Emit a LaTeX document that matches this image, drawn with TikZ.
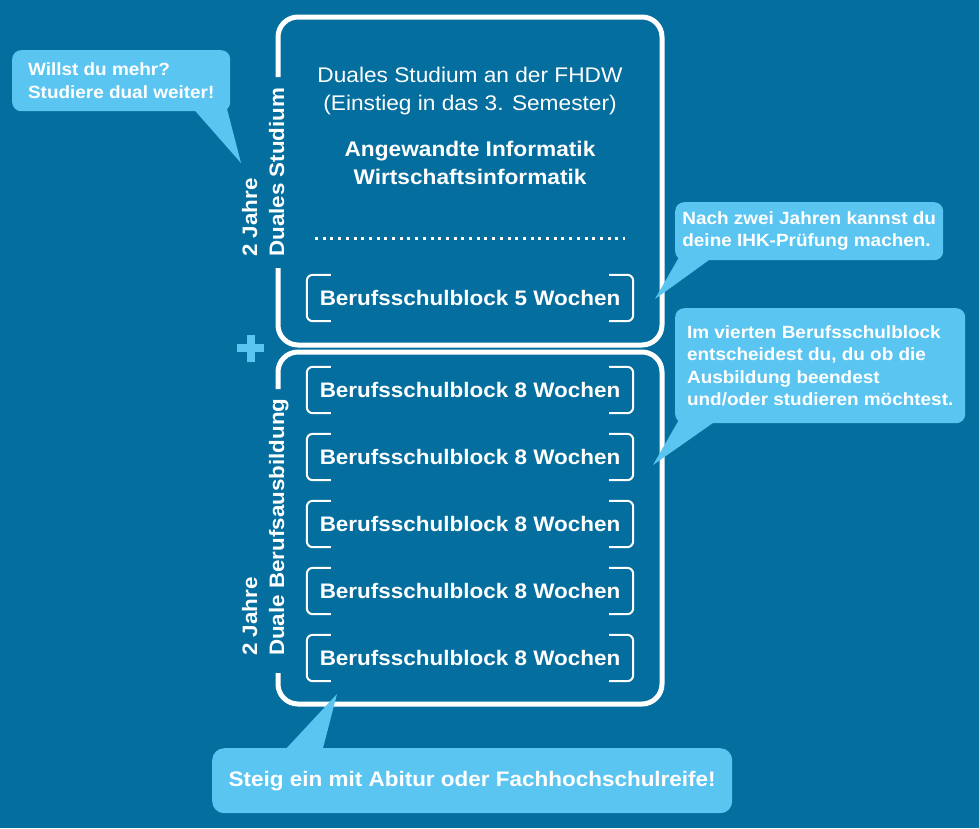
\documentclass[tikz,border=0pt]{standalone}
\usepackage{fontspec}
\setmainfont{Liberation Sans}[FakeStretch=1.07]
\definecolor{bgblue}{HTML}{046E9E}
\definecolor{calloutblue}{HTML}{5BC5F2}
\begin{document}
\begin{tikzpicture}[x=1pt,y=-1pt,
  frame/.style={draw=white, line width=5pt, rounded corners=20pt},
  bracketline/.style={draw=white, line width=2pt, rounded corners=6pt},
  block/.style={text=white, font=\bfseries\fontsize{21}{24}\selectfont, minimum width=326pt, minimum height=46pt, inner sep=0pt},
  headtext/.style={text=white, font=\fontsize{21.2}{28}\selectfont, align=center},
  boldtext/.style={text=white, font=\bfseries\fontsize{21.2}{28}\selectfont, align=center},
  callout/.style={fill=calloutblue, rounded corners=9pt, text=white, font=\bfseries\fontsize{17.7}{22.3}\selectfont, align=left, inner sep=0pt},
  tail/.style={fill=calloutblue},
  vlabel/.style={rotate=90, anchor=base west, text=white, font=\bfseries\fontsize{20.9}{23}\selectfont, inner sep=0pt},
  dotline/.style={draw=white, line width=3pt, dash pattern=on 3pt off 4.7pt},
  plusbar/.style={draw=calloutblue, line width=8pt}
]
\fill[bgblue] (0,0) rectangle (979,828);
\useasboundingbox (0,0) rectangle (979,828);

% frames
\draw[frame] (278,77) -- (278,17) -- (662,17) -- (662,345) -- (278,345) -- (278,268);
\draw[frame] (278,389) -- (278,352) -- (662,352) -- (662,704) -- (278,704) -- (278,673);

% vertical labels
\node[vlabel] (l1a) at (257,257) {2 Jahre};
\node[vlabel] (l1b) at (284,257) {Duales Studium};
\node[vlabel] (l2a) at (257,656) {2 Jahre};
\node[vlabel] (l2b) at (284,656) {Duale Berufsausbildung};

% plus
\draw[plusbar] (237,348) -- (264,348);
\draw[plusbar] (250.5,335) -- (250.5,362);

% head texts
\node[headtext] (h1) at (470,91) {Duales Studium an der FHDW\\(Einstieg in das 3. Semester)};
\node[boldtext] (h2) at (470,163) {Angewandte Informatik\\Wirtschaftsinformatik};
\coordinate (d1) at (315,238);
\coordinate (d2) at (625,238);
\draw[dotline] (d1) -- (d2);

% blocks
\node[block] (b0) at (470,298) {Berufsschulblock 5 Wochen};
\node[block] (b1) at (470,390) {Berufsschulblock 8 Wochen};
\node[block] (b2) at (470,457) {Berufsschulblock 8 Wochen};
\node[block] (b3) at (470,524) {Berufsschulblock 8 Wochen};
\node[block] (b4) at (470,591) {Berufsschulblock 8 Wochen};
\node[block] (b5) at (470,658) {Berufsschulblock 8 Wochen};
\foreach \n in {b0,b1,b2,b3,b4,b5} {
  \draw[bracketline] ([xshift=24pt]\n.north west) -- (\n.north west) -- (\n.south west) -- ([xshift=24pt]\n.south west);
  \draw[bracketline] ([xshift=-24pt]\n.north east) -- (\n.north east) -- (\n.south east) -- ([xshift=-24pt]\n.south east);
}

% callout tails
\coordinate (t1a) at (190,105);
\coordinate (t1b) at (226,105);
\coordinate (t1c) at (241,163);
\fill[tail] (t1a) -- (t1c) -- (t1b) -- cycle;
\coordinate (t2a) at (682,252);
\coordinate (t2b) at (716,255);
\coordinate (t2c) at (655,299);
\fill[tail] (t2a) -- (t2c) -- (t2b) -- cycle;
\coordinate (t3a) at (680,418);
\coordinate (t3b) at (720,418);
\coordinate (t3c) at (653,465);
\fill[tail] (t3a) -- (t3c) -- (t3b) -- cycle;
\coordinate (t4a) at (283,752);
\coordinate (t4b) at (322,752);
\coordinate (t4c) at (337,694);
\fill[tail] (t4a) -- (t4c) -- (t4b) -- cycle;

% callout boxes
\node[callout, minimum width=218pt, minimum height=61pt, anchor=north west] (c1) at (12,50) {Willst du mehr?\\Studiere dual weiter!};
\node[callout, minimum width=268pt, minimum height=58pt, anchor=north west] (c2) at (675,202) {Nach zwei Jahren kannst du\\deine IHK-Prüfung machen.};
\node[callout, minimum width=290pt, minimum height=115pt, anchor=north west] (c3) at (675,308) {Im vierten Berufsschulblock\\entscheidest du, du ob die\\Ausbildung beendest\\und/oder studieren möchtest.};
\node[callout, rounded corners=12pt, font=\bfseries\fontsize{21}{24}\selectfont, minimum width=520pt, minimum height=65pt, anchor=north west] (c4) at (212,748) {Steig ein mit Abitur oder Fachhochschulreife!};
\end{tikzpicture}
\end{document}
